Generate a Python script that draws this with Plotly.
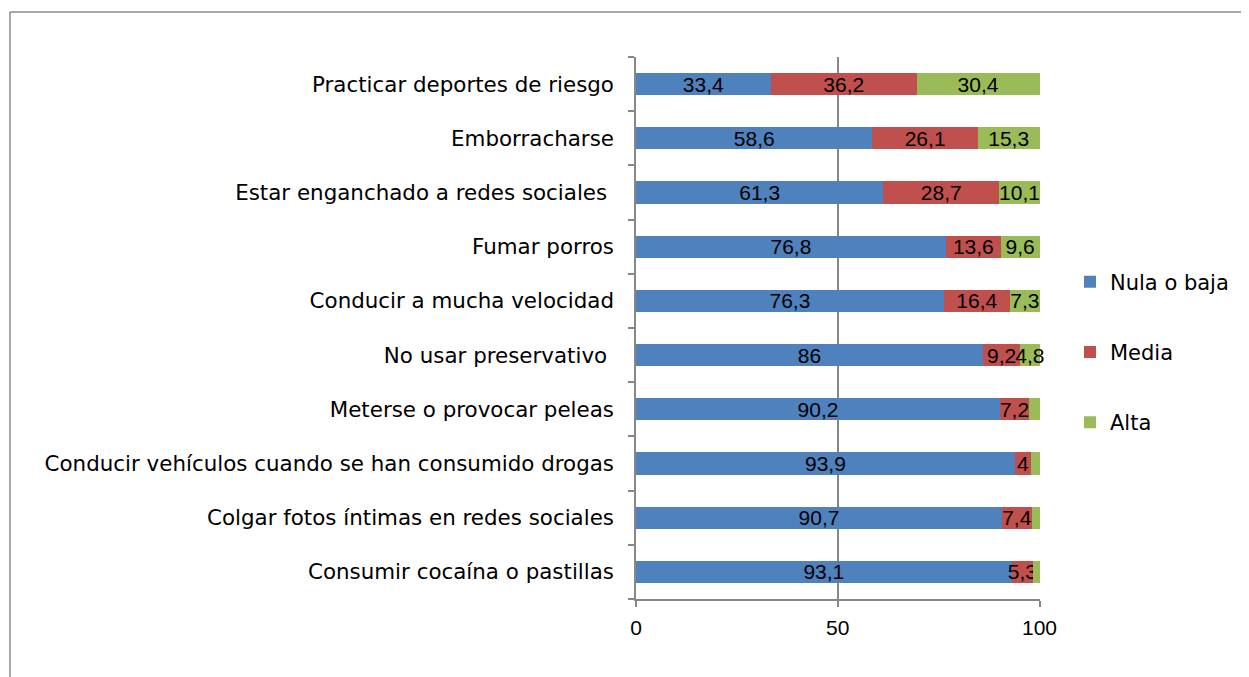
import plotly.graph_objects as go

categories = [
    "Practicar deportes de riesgo",
    "Emborracharse",
    "Estar enganchado a redes sociales ",
    "Fumar porros",
    "Conducir a mucha velocidad",
    "No usar preservativo ",
    "Meterse o provocar peleas",
    "Conducir vehículos cuando se han consumido drogas",
    "Colgar fotos íntimas en redes sociales",
    "Consumir cocaína o pastillas",
]
nula_baja = [33.4, 58.6, 61.3, 76.8, 76.3, 86, 90.2, 93.9, 90.7, 93.1]
media = [36.2, 26.1, 28.7, 13.6, 16.4, 9.2, 7.2, 4, 7.4, 5.3]
alta = [30.4, 15.3, 10.1, 9.6, 7.3, 4.8, 2.6, 2.1, 1.9, 1.6]
alta_labeled = [True, True, True, True, True, True, False, False, False, False]

series_names = ["Nula o baja", "Media", "Alta"]
colors = ["#4F81BD", "#C0504D", "#9BBB59"]
x_ticks = [0, 50, 100]


def fmt(v):
    return f"{v:g}".replace(".", ",")


texts = [
    [fmt(v) for v in nula_baja],
    [fmt(v) for v in media],
    [fmt(v) if show else "" for v, show in zip(alta, alta_labeled)],
]

NUMFONT = "Liberation Sans, Arial, sans-serif"
TXTFONT = "DejaVu Sans, sans-serif"
fig = go.Figure()
for name, vals, txt, col in zip(series_names, [nula_baja, media, alta], texts, colors):
    fig.add_trace(go.Bar(
        y=categories, x=vals, name=name, orientation="h",
        marker=dict(color=col, line=dict(width=0)),
        text=txt, textposition="inside", insidetextanchor="middle",
        textangle=0, constraintext="none", cliponaxis=False,
        textfont=dict(color="black", size=21, family=NUMFONT),
        legendgroup=name, hoverinfo="x+y+name",
    ))

# figure sits at page offset (8, 8) because of the default body margin
FW, FH = 1241, 669
W0, W1 = 628, 1032
T0, T1 = 49, 591
fig.update_layout(
    width=FW, height=FH,
    barmode="stack", bargap=0.59,
    paper_bgcolor="white", plot_bgcolor="white",
    margin=dict(l=W0, r=FW - W1, t=T0, b=FH - T1, autoexpand=False),
    font=dict(family=TXTFONT, size=21, color="black"),
    uniformtext=dict(mode=False),
    xaxis=dict(
        range=[0, 100.12], tickvals=x_ticks, ticktext=[str(t) for t in x_ticks],
        showgrid=True, gridcolor="#878787", gridwidth=1.5,
        showline=True, linecolor="#878787", linewidth=1.5,
        ticks="outside", ticklen=6, tickcolor="#878787", tickwidth=1.5,
        zeroline=False, tickfont=dict(size=21, family=NUMFONT),
        ticklabelstandoff=3,
    ),
    yaxis=dict(
        categoryorder="array", categoryarray=categories[::-1],
        showline=True, linecolor="#878787", linewidth=1.5,
        ticks="outside", ticklen=6, tickcolor="#878787", tickwidth=1.5,
        tickson="boundaries", showgrid=False, ticklabelstandoff=16,
        tickfont=dict(size=21.4, family=TXTFONT),
    ),
    legend=dict(
        x=(1062 - W0) / (W1 - W0), xanchor="left",
        y=(T1 - 344) / (T1 - T0), yanchor="middle",
        traceorder="grouped", tracegroupgap=40,
        font=dict(size=21, family=TXTFONT), itemwidth=30,
    ),
    showlegend=True,
)

# outer chart border (left and top edges visible)
bx = (2 - W0) / (W1 - W0)
by = (T1 - 4) / (T1 - T0)
fig.add_shape(type="line", xref="paper", yref="paper",
              x0=bx, x1=(1260 - W0) / (W1 - W0), y0=by, y1=by,
              line=dict(color="#8c8c8c", width=1.5))
fig.add_shape(type="line", xref="paper", yref="paper",
              x0=bx, x1=bx, y0=by, y1=(T1 - 700) / (T1 - T0),
              line=dict(color="#8c8c8c", width=1.5))

fig.write_html("out.html")
